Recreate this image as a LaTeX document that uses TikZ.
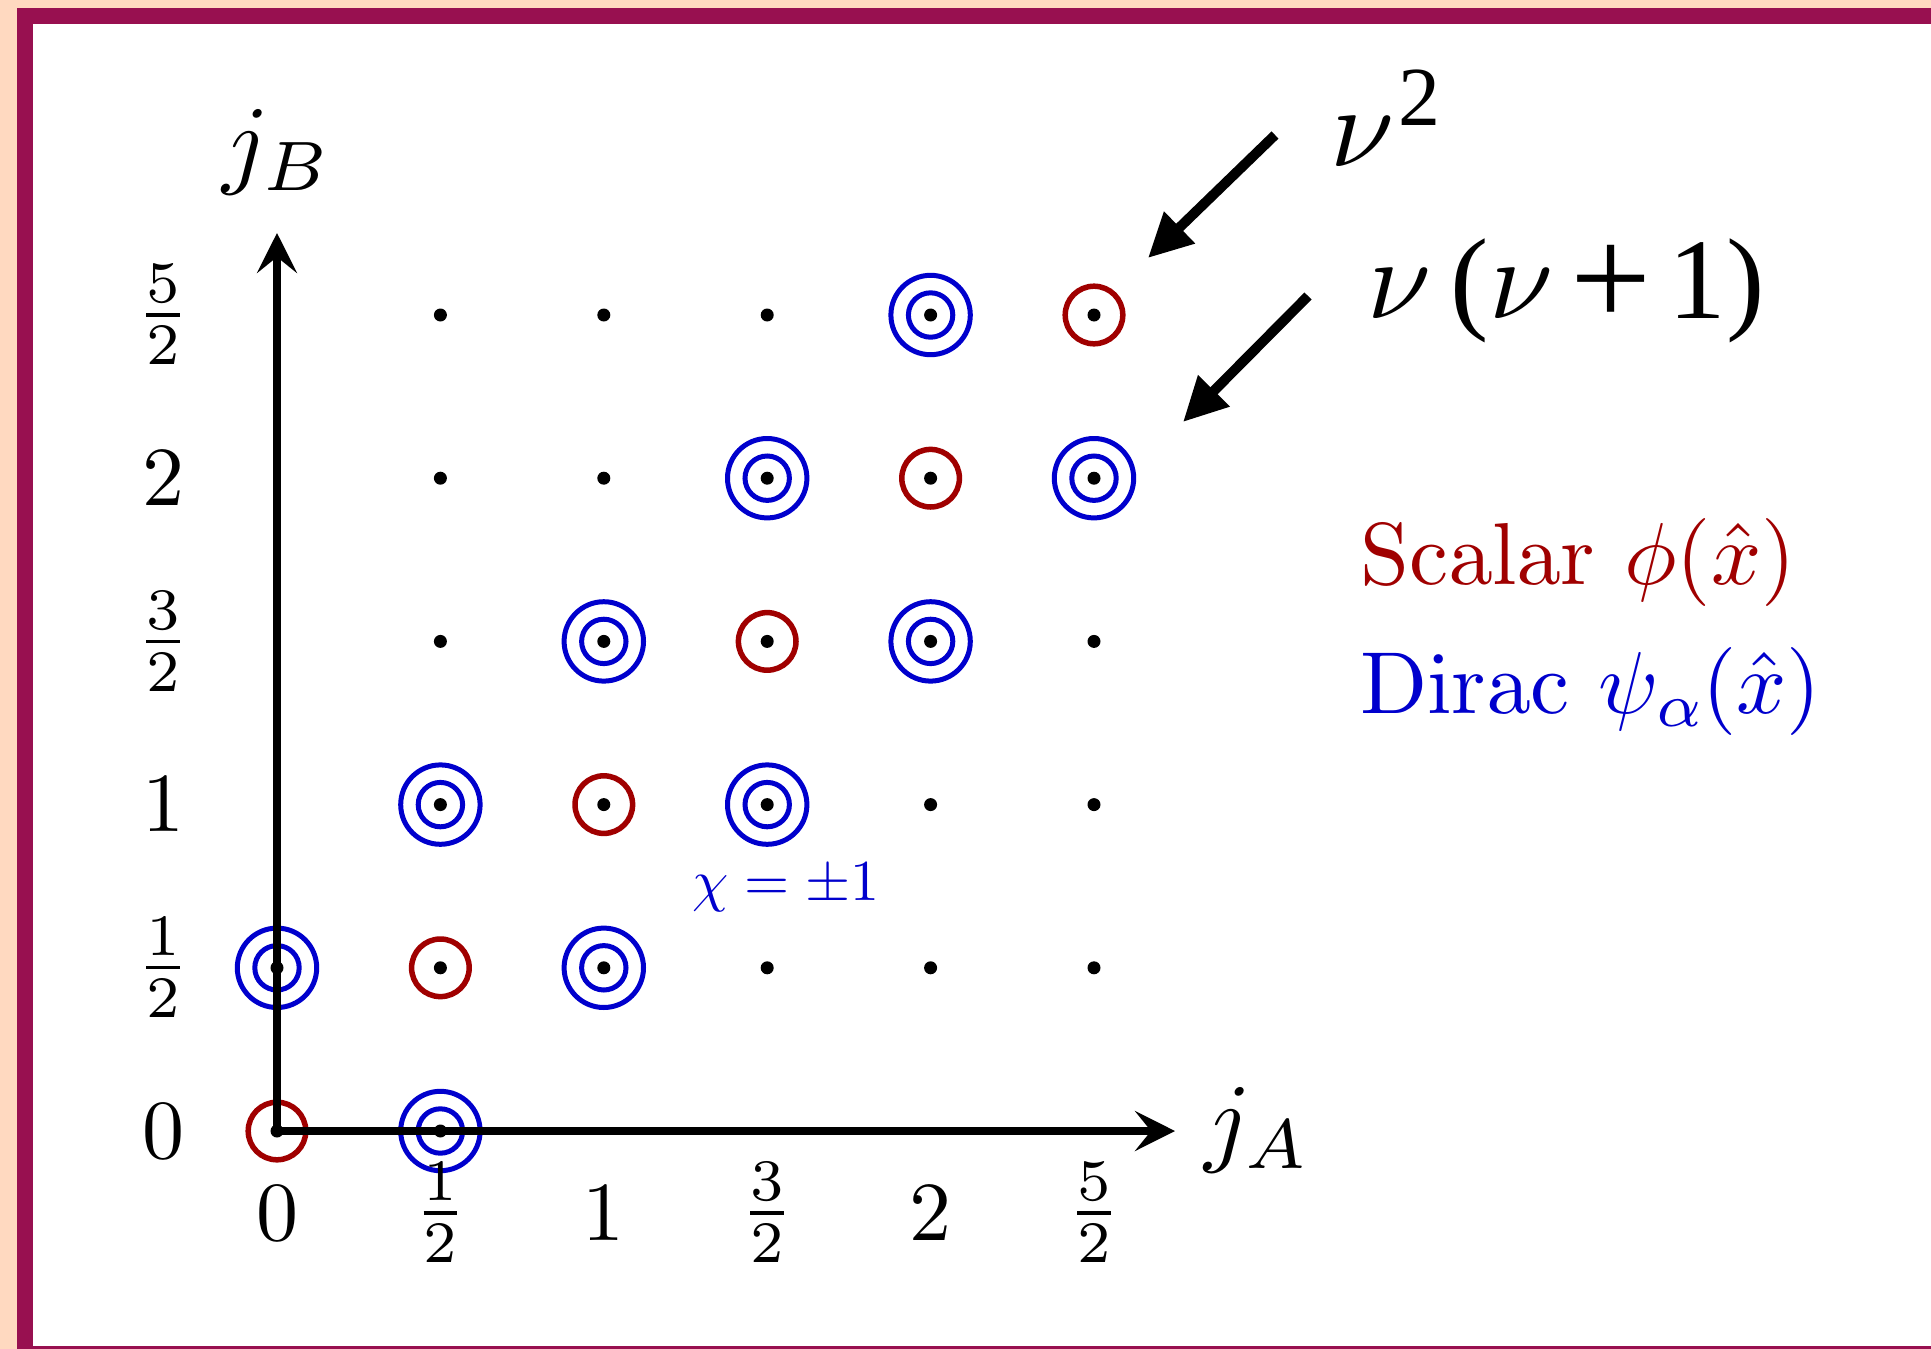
\documentclass[tikz,border=0pt]{standalone}
\usepackage[no-math]{fontspec}
\usepackage{graphicx}
\newfontfamily\timesf{Liberation Serif}
\DeclareFontShape{OT1}{cmr}{m}{n}{<-58.5>cmr10 <58.5-59.5>cmr7 <59.5->cmr10}{}
\DeclareFontShape{OML}{cmm}{m}{it}{<-61>cmmi10 <61-62.5>cmmi7 <62.5-69>cmmi10 <69-71>cmmi7 <71->cmmi10}{}
\DeclareFontShape{OMS}{cmsy}{m}{n}{<->cmsy10}{}
\DeclareFontShape{OMX}{cmex}{m}{n}{<->cmex10}{}
\usetikzlibrary{arrows.meta}
\definecolor{peach}{RGB}{255,217,192}
\definecolor{framec}{RGB}{152,16,80}
\definecolor{scal}{RGB}{160,0,0}
\definecolor{dirc}{RGB}{0,0,205}
\newcommand{\cmtext}{\fontencoding{OT1}\fontfamily{cmr}\selectfont}
\begin{document}
\begin{tikzpicture}[x=1pt,y=-1pt,
  dotn/.style={circle,fill=black,inner sep=0pt,minimum size=13pt},
  scalring/.style={circle,draw=scal,line width=5.5pt,inner sep=0pt,minimum size=57.6pt},
  dirouter/.style={circle,draw=dirc,line width=5pt,inner sep=0pt,minimum size=79.4pt},
  dirinner/.style={circle,draw=dirc,line width=5pt,inner sep=0pt,minimum size=44.4pt},
  axisline/.style={line width=8.5pt,-{Stealth[length=40pt,width=40pt,inset=16pt]}},
  nuarrow/.style={line width=10pt,-{Triangle[length=44pt,width=42pt]}},
  ticklab/.style={inner sep=0pt,anchor=center,font=\fontsize{84}{100}\selectfont},
  axlab/.style={inner sep=0pt,anchor=base west,font=\fontsize{100}{120}\selectfont},
  nulab/.style={inner sep=0pt,anchor=base west,font={\timesf\fontsize{115}{130}\selectfont}},
  legend/.style={inner sep=0pt,anchor=base west,font={\cmtext\fontsize{88}{100}\selectfont}}
]
\useasboundingbox (0,0) rectangle (1931,1349);
\clip (0,0) rectangle (1931,1349);
% frame
\fill[peach] (0,0) rectangle (1931,1349);
\fill[framec] (17,8) rectangle (1980,1380);
\fill[white] (33,24) rectangle (1980,1346);

% lattice coordinates
\foreach \i in {0,...,5}{
  \foreach \j in {0,...,5}{
    \coordinate (p\i\j) at ({277+163.4*\i},{1131-163.2*\j});
  }
}

% scalar rings (diagonal)
\foreach \i in {0,...,5}{
  \node[scalring] (s\i) at (p\i\i) {};
}
% Dirac rings
\foreach \a/\b in {1/0,0/1,2/1,1/2,3/2,2/3,4/3,3/4,5/4,4/5}{
  \node[dirouter] (do\a\b) at (p\a\b) {};
  \node[dirinner] (di\a\b) at (p\a\b) {};
}

% axes
\coordinate (xend) at (1175,1131);
\coordinate (yend) at (277,233);
\draw[axisline] (p00) -- (xend);
\draw[axisline] (p00) -- (yend);

% dots
\foreach \i in {1,...,5}{
  \foreach \j in {1,...,5}{
    \node[dotn] (d\i\j) at (p\i\j) {};
  }
}
\node[dotn] (d00) at (p00) {};
\node[dotn] (d10) at (p10) {};
\node[dotn] (d01) at (p01) {};

% tick labels x
\node[ticklab] (xl0) at (277,1213) {$0$};
\node[ticklab] (xl1) at (440.4,1213) {$\frac{1}{2}$};
\node[ticklab] (xl2) at (603.8,1213) {$1$};
\node[ticklab] (xl3) at (767.2,1213) {$\frac{3}{2}$};
\node[ticklab] (xl4) at (930.6,1213) {$2$};
\node[ticklab] (xl5) at (1094,1213) {$\frac{5}{2}$};
% tick labels y
\node[ticklab] (yl0) at (163,1131) {$0$};
\node[ticklab] (yl1) at (163,967.8) {$\frac{1}{2}$};
\node[ticklab] (yl2) at (163,804.6) {$1$};
\node[ticklab] (yl3) at (163,641.4) {$\frac{3}{2}$};
\node[ticklab] (yl4) at (163,478.2) {$2$};
\node[ticklab] (yl5) at (163,315) {$\frac{5}{2}$};

% axis labels
\node[axlab] (jB) at (222,175) {$j_B$};
\node[axlab] (jA) at (1204,1153) {$j_A$};

% chi label
\node[inner sep=0pt,anchor=base,text=dirc,font=\fontsize{58}{70}\selectfont] (chi) at (786,900) {$\chi=\pm1$};

% nu labels
\node[nulab] (nu2) at (1330,166) {$\nu$\hspace{4pt}\raisebox{41pt}{\fontsize{84}{84}\selectfont 2}};
\node[nulab] (nunu) at (1367,318) {$\nu$\hspace{0.17em}($\nu$\hspace{0.15em}\raisebox{-8pt}{\scalebox{1.25}{+}}\hspace{0.15em}1)};

% nu arrows
\coordinate (a1s) at (1275,135);
\coordinate (a1e) at (1148,258);
\coordinate (a2s) at (1308,296);
\coordinate (a2e) at (1183,422);
\draw[nuarrow] (a1s) -- (a1e);
\draw[nuarrow] (a2s) -- (a2e);

% legend
\node[legend,text=scal] (scalar) at (1360,584) {Scalar $\phi(\hat{x})$};
\node[legend,text=dirc] (dirac) at (1360,713) {Dirac $\psi_\alpha(\hat{x})$};
\end{tikzpicture}
\end{document}
